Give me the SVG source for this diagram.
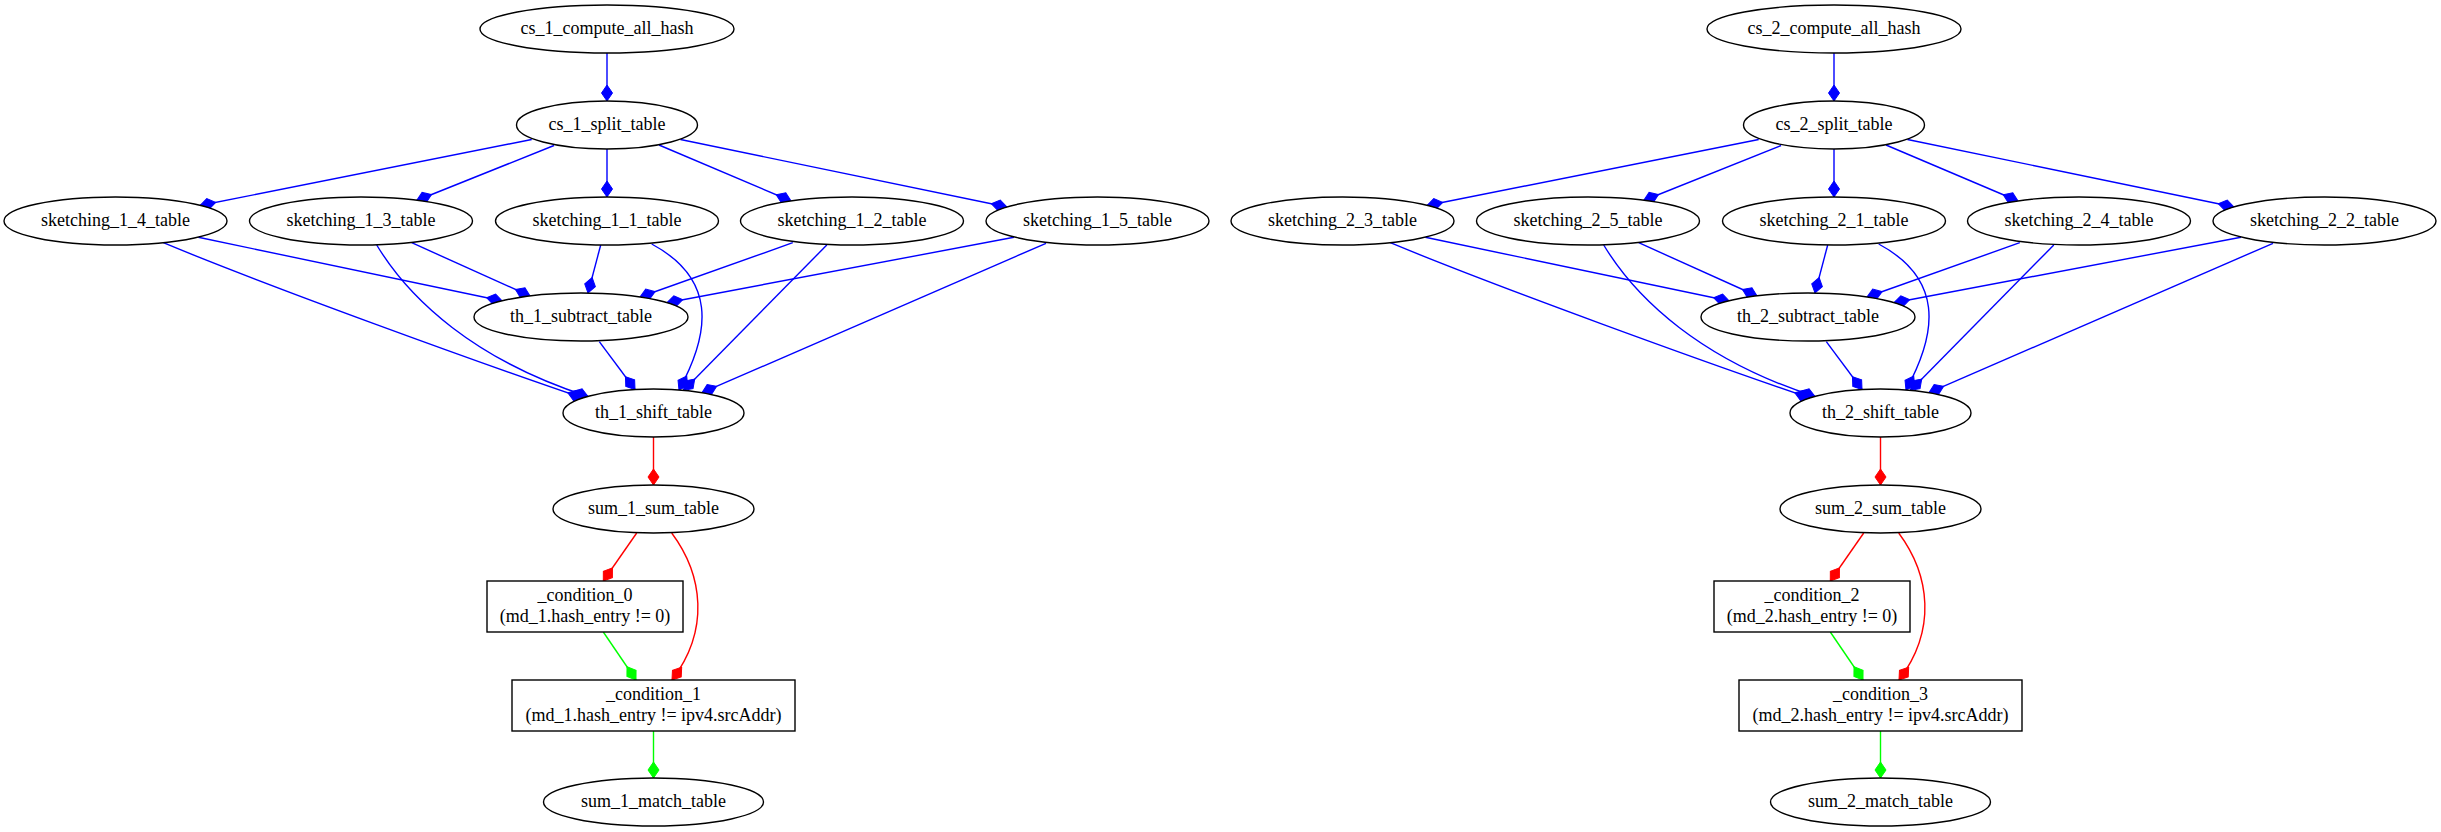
<svg xmlns="http://www.w3.org/2000/svg" width="2441" height="832" viewBox="0 0 2441 832">
  <style>
    .node ellipse, .node rect { fill: #ffffff; stroke: #000000; stroke-width: 1.4; }
    .node text { font-family: "Liberation Serif", "Times New Roman", serif; font-size: 18px; fill: #000000; text-anchor: middle; }
    .edge { fill: none; stroke-width: 1.4; }
    .blue { stroke: #0000ff; marker-end: url(#dia-blue); }
    .red { stroke: #ff0000; marker-end: url(#dia-red); }
    .green { stroke: #00ff00; marker-end: url(#dia-green); }
  </style>
  <defs>
    <marker id="dia-blue" viewBox="-1 -7 18 14" refX="16" refY="0" markerWidth="18" markerHeight="14" markerUnits="userSpaceOnUse" orient="auto">
      <path d="M0,0 L8,-5.5 L16,0 L8,5.5 Z" fill="#0000ff" stroke="#0000ff" stroke-width="1"/>
    </marker>
    <marker id="dia-red" viewBox="-1 -7 18 14" refX="16" refY="0" markerWidth="18" markerHeight="14" markerUnits="userSpaceOnUse" orient="auto">
      <path d="M0,0 L8,-5.5 L16,0 L8,5.5 Z" fill="#ff0000" stroke="#ff0000" stroke-width="1"/>
    </marker>
    <marker id="dia-green" viewBox="-1 -7 18 14" refX="16" refY="0" markerWidth="18" markerHeight="14" markerUnits="userSpaceOnUse" orient="auto">
      <path d="M0,0 L8,-5.5 L16,0 L8,5.5 Z" fill="#00ff00" stroke="#00ff00" stroke-width="1"/>
    </marker>
  </defs>
  <rect x="0" y="0" width="2441" height="832" fill="#ffffff"/>

  <!-- connectors: pipeline 1 at x offset 0, pipeline 2 shifted right by 1227 -->
  <g id="edges">
    <g id="edges-1">
      <path class="edge blue" d="M607,53 L607,101"/>
      <path class="edge blue" d="M531.7,139.5 L200,205.5"/>
      <path class="edge blue" d="M554,145.5 L416.7,200.5"/>
      <path class="edge blue" d="M607,149 L607,197"/>
      <path class="edge blue" d="M659,145 L791,201"/>
      <path class="edge blue" d="M680.5,139.5 L1007,207"/>
      <path class="edge blue" d="M198.3,237.3 L502.3,301"/>
      <path class="edge blue" d="M163.3,242.7 C270,287 480,363 583,398"/>
      <path class="edge blue" d="M411.7,242.7 L530,296"/>
      <path class="edge blue" d="M376.7,245 C410,300 475,360 588,396.5"/>
      <path class="edge blue" d="M600.7,245 L588,293"/>
      <path class="edge blue" d="M651.7,244 C715,278 712,330 679,390"/>
      <path class="edge blue" d="M792.8,242.7 L640,297"/>
      <path class="edge blue" d="M826.8,245 L683.5,390.4"/>
      <path class="edge blue" d="M1014,237.3 L667,302.7"/>
      <path class="edge blue" d="M1046,243.3 L702,392.7"/>
      <path class="edge blue" d="M599.3,341.7 L635,389.5"/>
      <path class="edge red" d="M653.5,437 L653.5,485"/>
      <path class="edge red" d="M636.7,533 L603.3,581"/>
      <path class="edge red" d="M671.7,533 C703,575 710,630 672,680"/>
      <path class="edge green" d="M603.3,632 L636,680"/>
      <path class="edge green" d="M653.5,731 L653.5,778"/>
    </g>
    <g id="edges-2" transform="translate(1227 0)">
      <path class="edge blue" d="M607,53 L607,101"/>
      <path class="edge blue" d="M531.7,139.5 L200,205.5"/>
      <path class="edge blue" d="M554,145.5 L416.7,200.5"/>
      <path class="edge blue" d="M607,149 L607,197"/>
      <path class="edge blue" d="M659,145 L791,201"/>
      <path class="edge blue" d="M680.5,139.5 L1007,207"/>
      <path class="edge blue" d="M198.3,237.3 L502.3,301"/>
      <path class="edge blue" d="M163.3,242.7 C270,287 480,363 583,398"/>
      <path class="edge blue" d="M411.7,242.7 L530,296"/>
      <path class="edge blue" d="M376.7,245 C410,300 475,360 588,396.5"/>
      <path class="edge blue" d="M600.7,245 L588,293"/>
      <path class="edge blue" d="M651.7,244 C715,278 712,330 679,390"/>
      <path class="edge blue" d="M792.8,242.7 L640,297"/>
      <path class="edge blue" d="M826.8,245 L683.5,390.4"/>
      <path class="edge blue" d="M1014,237.3 L667,302.7"/>
      <path class="edge blue" d="M1046,243.3 L702,392.7"/>
      <path class="edge blue" d="M599.3,341.7 L635,389.5"/>
      <path class="edge red" d="M653.5,437 L653.5,485"/>
      <path class="edge red" d="M636.7,533 L603.3,581"/>
      <path class="edge red" d="M671.7,533 C703,575 710,630 672,680"/>
      <path class="edge green" d="M603.3,632 L636,680"/>
      <path class="edge green" d="M653.5,731 L653.5,778"/>
    </g>
  </g>

  <!-- pipeline 1 -->
  <g id="cs_1_compute_all_hash" class="node"><ellipse cx="607" cy="29" rx="127" ry="24"/><text x="607" y="34">cs_1_compute_all_hash</text></g>
  <g id="cs_1_split_table" class="node"><ellipse cx="607" cy="125" rx="90.5" ry="24"/><text x="607" y="130">cs_1_split_table</text></g>
  <g id="sketching_1_4_table" class="node"><ellipse cx="115.5" cy="221" rx="111.5" ry="24"/><text x="115.5" y="226">sketching_1_4_table</text></g>
  <g id="sketching_1_3_table" class="node"><ellipse cx="361" cy="221" rx="111.5" ry="24"/><text x="361" y="226">sketching_1_3_table</text></g>
  <g id="sketching_1_1_table" class="node"><ellipse cx="607" cy="221" rx="111.5" ry="24"/><text x="607" y="226">sketching_1_1_table</text></g>
  <g id="sketching_1_2_table" class="node"><ellipse cx="852" cy="221" rx="111.5" ry="24"/><text x="852" y="226">sketching_1_2_table</text></g>
  <g id="sketching_1_5_table" class="node"><ellipse cx="1097.5" cy="221" rx="111.5" ry="24"/><text x="1097.5" y="226">sketching_1_5_table</text></g>
  <g id="th_1_subtract_table" class="node"><ellipse cx="581" cy="317" rx="107" ry="24"/><text x="581" y="322">th_1_subtract_table</text></g>
  <g id="th_1_shift_table" class="node"><ellipse cx="653.5" cy="413" rx="90.5" ry="24"/><text x="653.5" y="418">th_1_shift_table</text></g>
  <g id="sum_1_sum_table" class="node"><ellipse cx="653.5" cy="509" rx="100.5" ry="24"/><text x="653.5" y="514">sum_1_sum_table</text></g>
  <g id="_condition_0" class="node"><rect x="487" y="581" width="196" height="51"/><text x="585" y="601">_condition_0</text><text x="585" y="622">(md_1.hash_entry != 0)</text></g>
  <g id="_condition_1" class="node"><rect x="512" y="680" width="283" height="51"/><text x="653.5" y="700">_condition_1</text><text x="653.5" y="721">(md_1.hash_entry != ipv4.srcAddr)</text></g>
  <g id="sum_1_match_table" class="node"><ellipse cx="653.5" cy="802" rx="110" ry="24"/><text x="653.5" y="807">sum_1_match_table</text></g>

  <!-- pipeline 2 -->
  <g transform="translate(1227 0)">
    <g id="cs_2_compute_all_hash" class="node"><ellipse cx="607" cy="29" rx="127" ry="24"/><text x="607" y="34">cs_2_compute_all_hash</text></g>
    <g id="cs_2_split_table" class="node"><ellipse cx="607" cy="125" rx="90.5" ry="24"/><text x="607" y="130">cs_2_split_table</text></g>
    <g id="sketching_2_3_table" class="node"><ellipse cx="115.5" cy="221" rx="111.5" ry="24"/><text x="115.5" y="226">sketching_2_3_table</text></g>
    <g id="sketching_2_5_table" class="node"><ellipse cx="361" cy="221" rx="111.5" ry="24"/><text x="361" y="226">sketching_2_5_table</text></g>
    <g id="sketching_2_1_table" class="node"><ellipse cx="607" cy="221" rx="111.5" ry="24"/><text x="607" y="226">sketching_2_1_table</text></g>
    <g id="sketching_2_4_table" class="node"><ellipse cx="852" cy="221" rx="111.5" ry="24"/><text x="852" y="226">sketching_2_4_table</text></g>
    <g id="sketching_2_2_table" class="node"><ellipse cx="1097.5" cy="221" rx="111.5" ry="24"/><text x="1097.5" y="226">sketching_2_2_table</text></g>
    <g id="th_2_subtract_table" class="node"><ellipse cx="581" cy="317" rx="107" ry="24"/><text x="581" y="322">th_2_subtract_table</text></g>
    <g id="th_2_shift_table" class="node"><ellipse cx="653.5" cy="413" rx="90.5" ry="24"/><text x="653.5" y="418">th_2_shift_table</text></g>
    <g id="sum_2_sum_table" class="node"><ellipse cx="653.5" cy="509" rx="100.5" ry="24"/><text x="653.5" y="514">sum_2_sum_table</text></g>
    <g id="_condition_2" class="node"><rect x="487" y="581" width="196" height="51"/><text x="585" y="601">_condition_2</text><text x="585" y="622">(md_2.hash_entry != 0)</text></g>
    <g id="_condition_3" class="node"><rect x="512" y="680" width="283" height="51"/><text x="653.5" y="700">_condition_3</text><text x="653.5" y="721">(md_2.hash_entry != ipv4.srcAddr)</text></g>
    <g id="sum_2_match_table" class="node"><ellipse cx="653.5" cy="802" rx="110" ry="24"/><text x="653.5" y="807">sum_2_match_table</text></g>
  </g>
</svg>
